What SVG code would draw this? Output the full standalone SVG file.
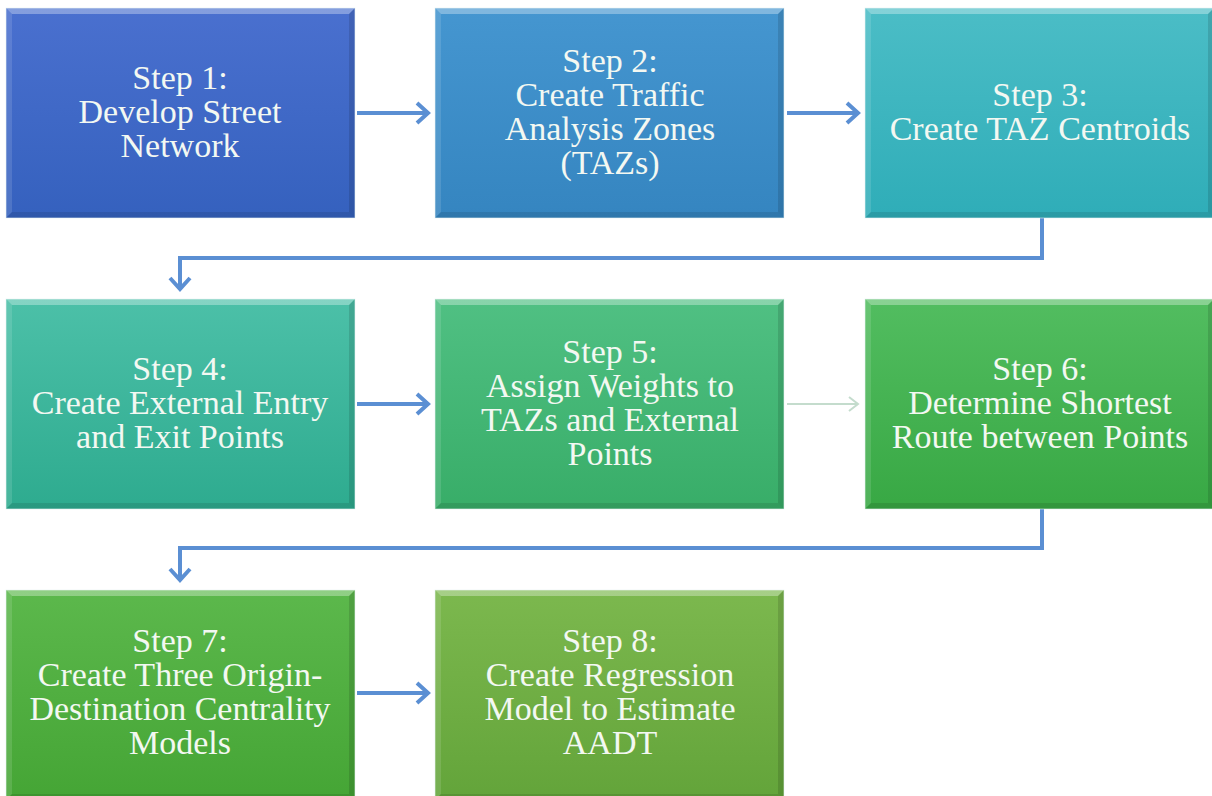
<svg xmlns="http://www.w3.org/2000/svg" xmlns:xlink="http://www.w3.org/1999/xlink" width="1212" height="796" viewBox="0 0 1212 796">
<style>
  .t { font-family: "Liberation Serif", "Times New Roman", serif; font-size: 34px; fill: #f3f8f2; text-anchor: middle; }
  .conn { fill: none; stroke: #5b8fd3; stroke-width: 4; stroke-linejoin: miter; }
  .faint { fill: none; stroke: #c4dccd; stroke-width: 2; }
</style>
<defs>
  <linearGradient id="g1" x1="0" y1="0" x2="0" y2="1"><stop offset="0" stop-color="#4a70cf"/><stop offset="1" stop-color="#3561be"/></linearGradient>
  <linearGradient id="g2" x1="0" y1="0" x2="0" y2="1"><stop offset="0" stop-color="#4596d0"/><stop offset="1" stop-color="#3585c0"/></linearGradient>
  <linearGradient id="g3" x1="0" y1="0" x2="0" y2="1"><stop offset="0" stop-color="#4bbdc6"/><stop offset="1" stop-color="#2fadb8"/></linearGradient>
  <linearGradient id="g4" x1="0" y1="0" x2="0" y2="1"><stop offset="0" stop-color="#4cc0a8"/><stop offset="1" stop-color="#2eab8f"/></linearGradient>
  <linearGradient id="g5" x1="0" y1="0" x2="0" y2="1"><stop offset="0" stop-color="#50c083"/><stop offset="1" stop-color="#38ad68"/></linearGradient>
  <linearGradient id="g6" x1="0" y1="0" x2="0" y2="1"><stop offset="0" stop-color="#52bd60"/><stop offset="1" stop-color="#38a844"/></linearGradient>
  <linearGradient id="g7" x1="0" y1="0" x2="0" y2="1"><stop offset="0" stop-color="#5cb84c"/><stop offset="1" stop-color="#45a535"/></linearGradient>
  <linearGradient id="g8" x1="0" y1="0" x2="0" y2="1"><stop offset="0" stop-color="#7cb84e"/><stop offset="1" stop-color="#63a43a"/></linearGradient>
  <g id="bevel">
    <polygon points="0,0 349,0 343,6 6,6" fill="#ffffff" fill-opacity="0.32"/>
    <polygon points="0,0 6,6 6,204 0,210" fill="#ffffff" fill-opacity="0.12"/>
    <polygon points="349,0 349,210 343,204 343,6" fill="#000000" fill-opacity="0.12"/>
    <polygon points="0,210 6,204 343,204 349,210" fill="#000000" fill-opacity="0.10"/>
    <rect x="0" y="0" width="349" height="210" fill="none" stroke="#e8f4f4" stroke-width="1" stroke-opacity="0.6"/>
  </g>
  <marker id="ah" markerUnits="userSpaceOnUse" markerWidth="20" markerHeight="26" refX="13" refY="12" orient="auto" viewBox="0 0 20 26">
    <path d="M2,2 L13,12 L2,22" fill="none" stroke="#5b8fd3" stroke-width="4"/>
  </marker>
  <marker id="ahf" markerUnits="userSpaceOnUse" markerWidth="16" markerHeight="20" refX="11" refY="9" orient="auto" viewBox="0 0 16 20">
    <path d="M2,2 L11,9 L2,16" fill="none" stroke="#c4dccd" stroke-width="2"/>
  </marker>
</defs>
<rect width="1212" height="796" fill="#ffffff"/>

<g id="connectors">
  <line class="conn" x1="357" y1="113" x2="428" y2="113" marker-end="url(#ah)"/>
  <line class="conn" x1="787" y1="113" x2="858" y2="113" marker-end="url(#ah)"/>
  <polyline class="conn" points="1042,218 1042,258 180,258 180,289" marker-end="url(#ah)"/>
  <line class="conn" x1="357" y1="404" x2="428" y2="404" marker-end="url(#ah)"/>
  <line class="faint" x1="787" y1="404" x2="858" y2="404" marker-end="url(#ahf)"/>
  <polyline class="conn" points="1042,509 1042,548 180,548 180,580" marker-end="url(#ah)"/>
  <line class="conn" x1="357" y1="693" x2="428" y2="693" marker-end="url(#ah)"/>
</g>

<g id="step1">
  <rect x="6" y="8" width="349" height="210" fill="url(#g1)"/>
  <use xlink:href="#bevel" x="6" y="8"/>
  <text class="t" x="180" y="89">Step 1:</text>
  <text class="t" x="180" y="123">Develop Street</text>
  <text class="t" x="180" y="157">Network</text>
</g>
<g id="step2">
  <rect x="435" y="8" width="349" height="210" fill="url(#g2)"/>
  <use xlink:href="#bevel" x="435" y="8"/>
  <text class="t" x="610" y="72">Step 2:</text>
  <text class="t" x="610" y="106">Create Traffic</text>
  <text class="t" x="610" y="140">Analysis Zones</text>
  <text class="t" x="610" y="174">(TAZs)</text>
</g>
<g id="step3">
  <rect x="865" y="8" width="349" height="210" fill="url(#g3)"/>
  <use xlink:href="#bevel" x="865" y="8"/>
  <text class="t" x="1040" y="106">Step 3:</text>
  <text class="t" x="1040" y="140">Create TAZ Centroids</text>
</g>
<g id="step4">
  <rect x="6" y="299" width="349" height="210" fill="url(#g4)"/>
  <use xlink:href="#bevel" x="6" y="299"/>
  <text class="t" x="180" y="380">Step 4:</text>
  <text class="t" x="180" y="414">Create External Entry</text>
  <text class="t" x="180" y="448">and Exit Points</text>
</g>
<g id="step5">
  <rect x="435" y="299" width="349" height="210" fill="url(#g5)"/>
  <use xlink:href="#bevel" x="435" y="299"/>
  <text class="t" x="610" y="363">Step 5:</text>
  <text class="t" x="610" y="397">Assign Weights to</text>
  <text class="t" x="610" y="431">TAZs and External</text>
  <text class="t" x="610" y="465">Points</text>
</g>
<g id="step6">
  <rect x="865" y="299" width="349" height="210" fill="url(#g6)"/>
  <use xlink:href="#bevel" x="865" y="299"/>
  <text class="t" x="1040" y="380">Step 6:</text>
  <text class="t" x="1040" y="414">Determine Shortest</text>
  <text class="t" x="1040" y="448">Route between Points</text>
</g>
<g id="step7">
  <rect x="6" y="590" width="349" height="210" fill="url(#g7)"/>
  <use xlink:href="#bevel" x="6" y="590"/>
  <text class="t" x="180" y="652">Step 7:</text>
  <text class="t" x="180" y="686">Create Three Origin-</text>
  <text class="t" x="180" y="720">Destination Centrality</text>
  <text class="t" x="180" y="754">Models</text>
</g>
<g id="step8">
  <rect x="435" y="590" width="349" height="210" fill="url(#g8)"/>
  <use xlink:href="#bevel" x="435" y="590"/>
  <text class="t" x="610" y="652">Step 8:</text>
  <text class="t" x="610" y="686">Create Regression</text>
  <text class="t" x="610" y="720">Model to Estimate</text>
  <text class="t" x="610" y="754">AADT</text>
</g>
</svg>
